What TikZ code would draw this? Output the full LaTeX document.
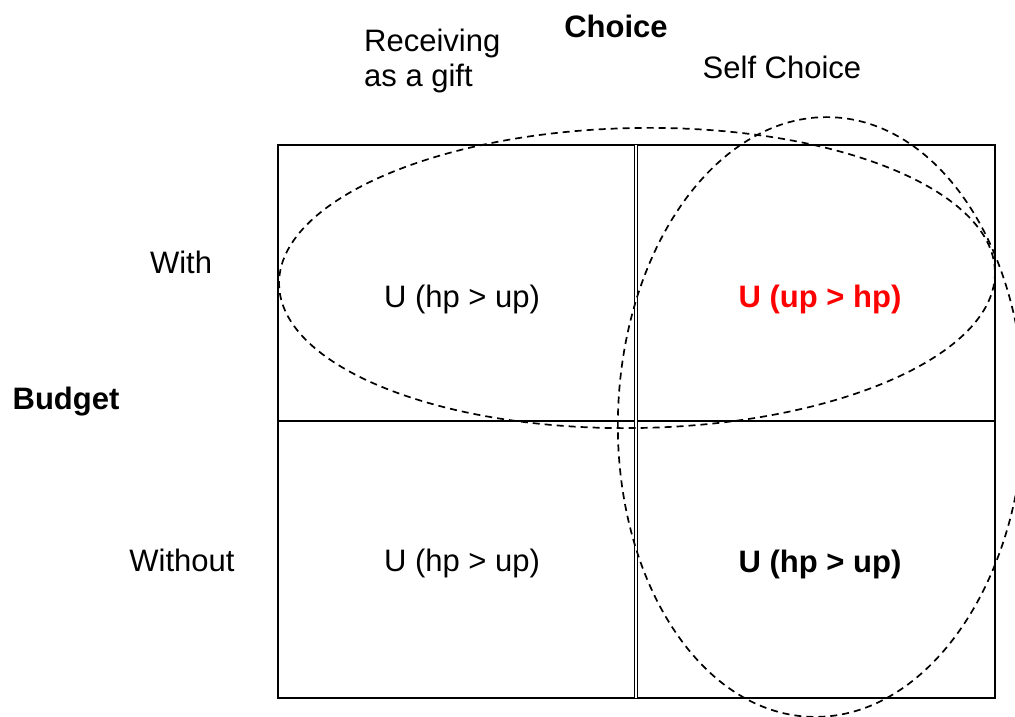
\documentclass[tikz,border=0pt]{standalone}
\usepackage{fontspec}
\setmainfont{Liberation Sans}
\begin{document}
\begin{tikzpicture}[x=1pt,y=-1pt,
  lbl/.style={inner sep=0pt,anchor=base,font=\fontsize{31}{35}\selectfont},
  lblw/.style={lbl,anchor=base west},
  grid/.style={line width=2pt},
  ring/.style={dashed,dash pattern=on 7pt off 5pt,line width=1.7pt}]
\useasboundingbox (0,0) rectangle (1015,717);
\fill[white] (0,0) rectangle (1015,717);

% axis headings
\node[lbl,font=\fontsize{31}{35}\selectfont\bfseries] (choice) at (616,38) {Choice};
\node[lblw] (recv1) at (364,52) {Receiving};
\node[lblw] (recv2) at (364,87) {as a gift};
\node[lbl] (self) at (782,78) {Self Choice};
\node[lbl,font=\fontsize{31}{35}\selectfont\bfseries] (budget) at (66,409) {Budget};
\node[lbl] (with) at (181,273) {With};
\node[lbl] (without) at (182,571) {Without};

% the 2x2 table
\coordinate (tl) at (278,145);
\coordinate (br) at (995,698);
\draw[grid] (tl) rectangle (br);
\draw[grid] (278,421) -- (995,421);
\draw[line width=1.4pt,double,double distance=1.4pt] (636,145) -- (636,698);

% cell contents
\node[lbl] (c11) at (462,307) {U (hp > up)};
\node[lbl,font=\fontsize{31}{35}\selectfont\bfseries,text=red] (c12) at (820,307) {U (up > hp)};
\node[lbl] (c21) at (462,571) {U (hp > up)};
\node[lbl,font=\fontsize{31}{35}\selectfont\bfseries] (c22) at (820,572) {U (hp > up)};

% dashed groupings
\begin{scope}
\clip (0,0) rectangle (1015,717);
\draw[ring] (637,278) ellipse [x radius=358, y radius=150, rotate=1];
\draw[ring] (821,417) ellipse [x radius=203, y radius=300, rotate=-2];
\end{scope}
\end{tikzpicture}
\end{document}
